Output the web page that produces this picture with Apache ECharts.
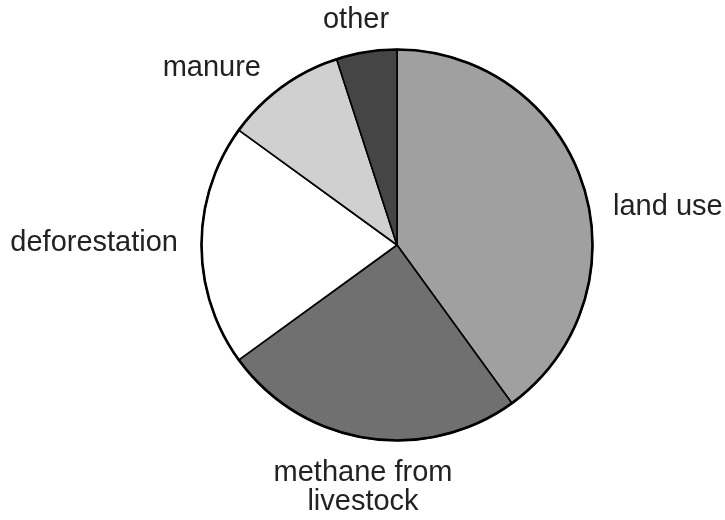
<!DOCTYPE html>
<html>
<head>
<meta charset="utf-8">
<script src="https://cdn.jsdelivr.net/npm/echarts@6/dist/echarts.min.js"></script>
</head>
<body style="margin:0;background:#fff;">
<div id="main" style="width: 725px;height:520px;"></div>
<script type="text/javascript">
    // slices, clockwise from 12 o'clock
    var categories = ['land use', 'methane from\nlivestock', 'deforestation', 'manure', 'other'];
    var shares = [40, 25, 20, 10, 5];
    var sliceColors = ['#a0a0a0', '#707070', '#ffffff', '#d0d0d0', '#454545'];

    // where each label text sits (anchor + alignment)
    var labelSpots = [
        { x: 613, y: 207, align: 'left' },
        { x: 363, y: 487, align: 'center' },
        { x: 178, y: 243, align: 'right' },
        { x: 261, y: 68, align: 'right' },
        { x: 356, y: 20, align: 'center' }
    ];

    var myChart = echarts.init(document.getElementById('main'));

    var option = {
        animation: false,
        backgroundColor: '#fff',
        series: [{
            type: 'pie',
            center: [397, 245],
            radius: [0, 195.5],
            startAngle: 90,
            clockwise: true,
            avoidLabelOverlap: false,
            itemStyle: {
                borderColor: '#000',
                borderWidth: 1.6
            },
            label: {
                show: true,
                position: 'outside',
                color: '#222',
                fontSize: 29,
                lineHeight: 29,
                fontFamily: 'Liberation Sans, Arial, sans-serif'
            },
            labelLine: { show: false },
            emphasis: { disabled: true },
            labelLayout: function (params) {
                var s = labelSpots[params.dataIndex];
                return { x: s.x, y: s.y, align: s.align, verticalAlign: 'middle' };
            },
            data: categories.map(function (name, i) {
                return {
                    name: name,
                    value: shares[i],
                    itemStyle: { color: sliceColors[i] },
                    label: { align: labelSpots[i].align }
                };
            })
        }, {
            // heavier outer rim
            type: 'pie',
            center: [397, 245],
            radius: [195.5, 195.5],
            silent: true,
            label: { show: false },
            labelLine: { show: false },
            itemStyle: { color: 'none', borderColor: '#000', borderWidth: 2.6 },
            data: [{ name: 'rim', value: shares.reduce(function (a, b) { return a + b; }, 0) }]
        }]
    };
    myChart.setOption(option);
</script>
</body>
</html>
